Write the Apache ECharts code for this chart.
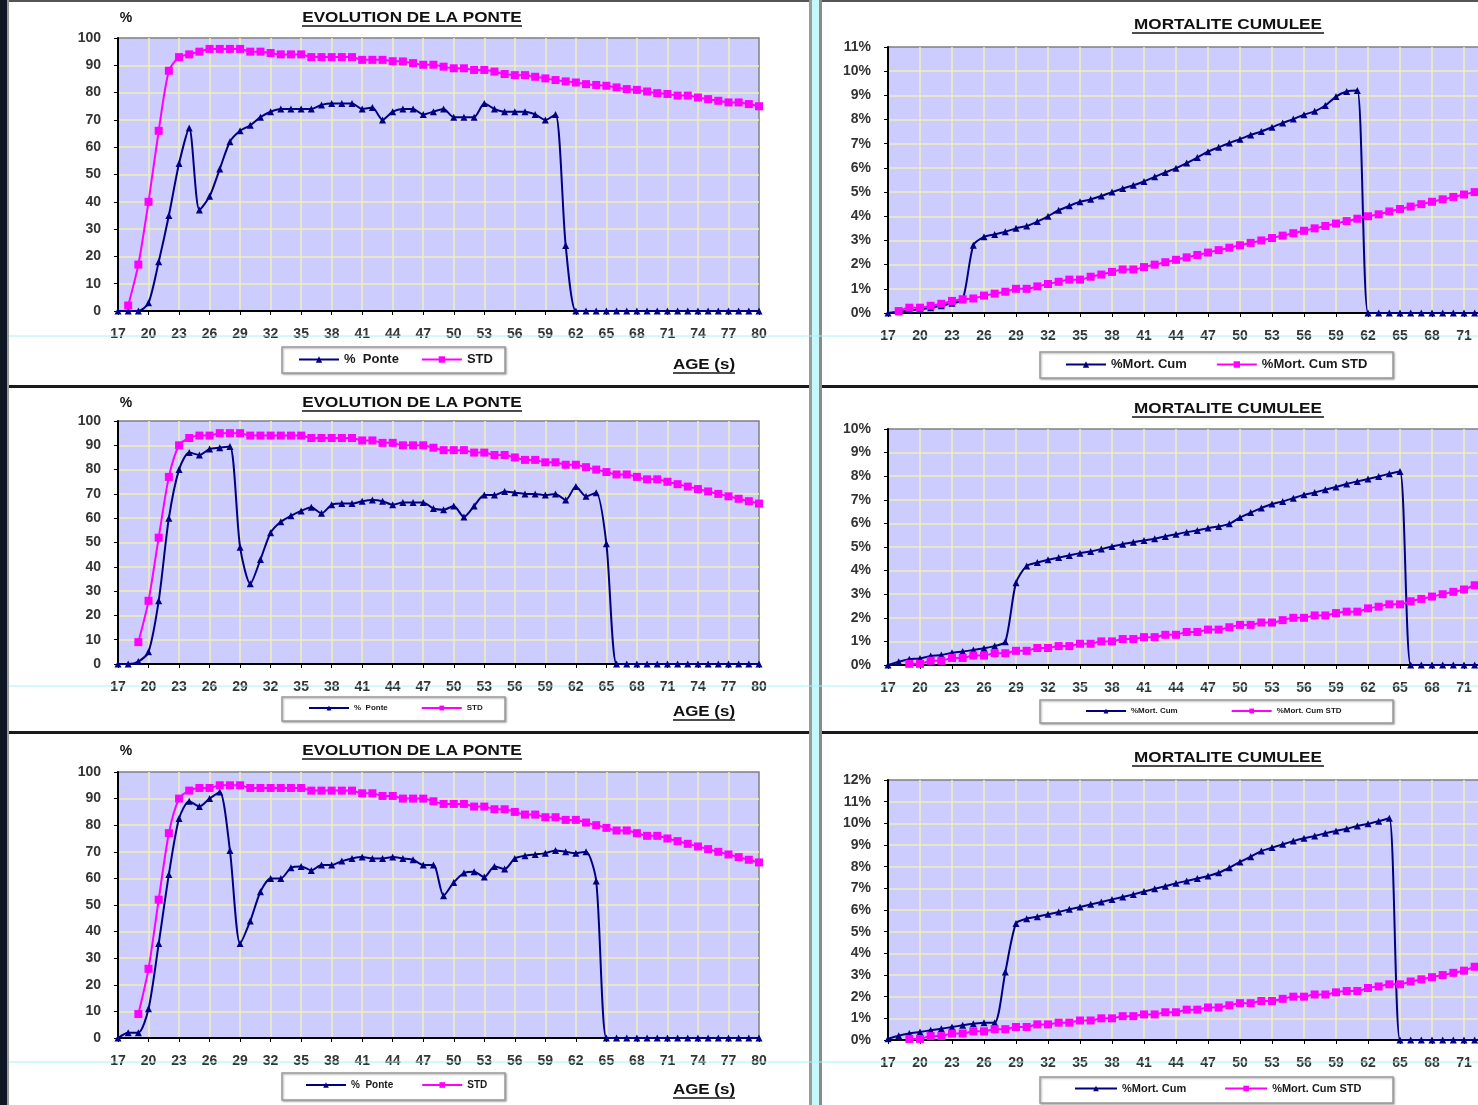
<!DOCTYPE html>
<html>
<head>
<meta charset="utf-8">
<title>Evolution de la ponte / Mortalite cumulee</title>
<script src="https://cdn.jsdelivr.net/npm/echarts@6/dist/echarts.min.js"></script>
<style>
html, body { margin: 0; padding: 0; background: #0e1723; overflow: hidden; }
#chart { width: 1478px; height: 1105px; }
</style>
</head>
<body>
<div id="chart"></div>
<script>
// semaines d'age (axe X commun)
const weeks = ['17','18','19','20','21','22','23','24','25','26','27','28','29','30','31','32',
  '33','34','35','36','37','38','39','40','41','42','43','44','45','46','47','48',
  '49','50','51','52','53','54','55','56','57','58','59','60','61','62','63','64',
  '65','66','67','68','69','70','71','72','73','74','75','76','77','78','79','80'];

// % ponte - lot 1, 2, 3
const ponte1 = [0,0,0,3,18,35,54,67,37,42,52,62,66,68,71,73,
  74,74,74,74,75.5,76,76,76,74,74.5,70,73,74,74,72,73,
  74,71,71,71,76,74,73,73,73,72,70,72,24,0,0,0,
  0,0,0,0,0,0,0,0,0,0,0,0,0,0,0,0];
const ponte2 = [0,0,1,5,26,60,80,87,86,88.5,89,89.5,48,33,43,54,
  58.5,61,63,64.5,62,65.5,66,66,67,67.5,67,65.5,66.5,66.5,66.5,64,
  63.5,65,60.5,65,69.5,69.5,71,70.5,70,70,69.5,70,67.5,73,69,70.5,
  49.5,0,0,0,0,0,0,0,0,0,0,0,0,0,0,0];
const ponte3 = [0,2,2,11,35.5,61.5,82.5,89,87,90,92.5,70.5,35.5,44,55,60,
  60,64,64.5,63,65,65,66.5,67.5,68,67.5,67.5,68,67.5,67,65,65,
  53.5,58.5,62,62.5,60.5,64.5,63.5,67.5,68.5,69,69.5,70.5,70,69.5,70,59,
  0,0,0,0,0,0,0,0,0,0,0,0,0,0,0,0];

// standard de ponte
const stdPonte1 = [null,2,17,40,66,88,93,94,95,96,96,96,96,95,95,94.5,
  94,94,94,93,93,93,93,93,92,92,92,91.5,91.4,90.8,90.2,90.2,
  89.5,88.9,88.9,88.3,88.3,87.7,86.8,86.4,86.4,85.8,85.2,84.6,84.1,83.7,83.1,82.8,
  82.5,81.9,81.3,81,80.4,79.8,79.5,78.9,78.9,78.2,77.6,77,76.4,76.4,75.8,75];
const stdPonte2 = [null,null,9,26,52,77,90,93,94,94,95,95,95,94,94,94,
  94,94,94,93,93,93,93,93,92,92,91,91,90,90,90,89,
  88,88,88,87,87,86,86,85,84,84,83,83,82,82,81,80,
  79,78,78,77,76,76,75,74,73,72,71,70,69,68,67,66];

// % mortalite cumulee - lot 1, 2, 3
const mort1 = [0,0.05,0.1,0.15,0.22,0.3,0.4,0.55,2.8,3.15,3.25,3.36,3.5,3.6,3.78,4.0,
  4.25,4.43,4.6,4.7,4.84,5.0,5.15,5.28,5.44,5.63,5.81,5.99,6.2,6.43,6.67,6.85,
  7.03,7.19,7.36,7.51,7.68,7.86,8.02,8.2,8.34,8.58,8.95,9.16,9.2,0,0,0,
  0,0,0,0,0,0,0,0,0,0,0,0,0,0,0,0];
const mort2 = [0,0.14,0.24,0.28,0.38,0.42,0.52,0.57,0.64,0.71,0.8,0.99,3.49,4.2,4.34,4.46,
  4.55,4.64,4.74,4.81,4.91,5.02,5.12,5.2,5.28,5.35,5.45,5.54,5.63,5.7,5.8,5.87,
  5.98,6.25,6.46,6.65,6.82,6.93,7.07,7.21,7.31,7.43,7.54,7.67,7.78,7.88,7.99,8.1,
  8.2,0,0,0,0,0,0,0,0,0,0,0,0,0,0,0];
const mort3 = [0.06,0.2,0.3,0.37,0.45,0.52,0.6,0.68,0.75,0.8,0.8,3.14,5.38,5.6,5.69,5.8,
  5.91,6.03,6.14,6.26,6.37,6.49,6.6,6.72,6.85,6.98,7.1,7.23,7.34,7.45,7.57,7.72,
  7.95,8.22,8.46,8.72,8.88,9.03,9.18,9.31,9.42,9.54,9.65,9.75,9.88,9.98,10.1,10.23,
  0,0,0,0,0,0,0,0,0,0,0,0,0,0,0,0];

// standard de mortalite cumulee
const stdMort1 = [null,0.08,0.22,0.22,0.3,0.38,0.5,0.57,0.6,0.72,0.8,0.88,1.0,1.0,1.1,1.2,
  1.29,1.38,1.38,1.5,1.59,1.7,1.8,1.8,1.9,2.0,2.1,2.2,2.3,2.4,2.5,2.6,
  2.7,2.8,2.9,3.0,3.1,3.2,3.3,3.4,3.5,3.6,3.7,3.8,3.9,4.0,4.08,4.2,
  4.3,4.4,4.5,4.6,4.7,4.8,4.9,5.0,5.1,5.2,5.3,5.4,5.5,5.6,5.7,5.8];
const stdMort2 = [null,null,0.05,0.05,0.18,0.18,0.3,0.3,0.4,0.4,0.5,0.5,0.6,0.6,0.72,0.72,
  0.8,0.8,0.9,0.9,1.0,1.0,1.1,1.1,1.18,1.18,1.28,1.28,1.4,1.4,1.5,1.5,
  1.6,1.7,1.7,1.8,1.8,1.9,2.0,2.0,2.1,2.1,2.2,2.26,2.26,2.4,2.47,2.57,
  2.57,2.7,2.8,2.9,3.0,3.1,3.2,3.38,3.45,3.55,3.65,3.75,3.85,3.95,4.05,4.15];

const yTicksPonte = [0, 100, 10];
const yTicksMort = [[0, 11, 1], [0, 10, 1], [0, 12, 1]];

const FONT = 'Arial, "Liberation Sans", sans-serif';
const NAVY = '#000080';
const PINK = '#ff00ff';
const GRIDLINE = '#f1efb6';

// position des 6 graphes : gauche = ponte, droite = mortalite
const plots = [
  { left: 118, top: 38,  width: 641, height: 273, kind: 'ponte', data: ponte1, std: stdPonte1, ticks: yTicksPonte },
  { left: 888, top: 47,  width: 672, height: 266, kind: 'mort',  data: mort1,  std: stdMort1,  ticks: yTicksMort[0] },
  { left: 118, top: 421, width: 641, height: 243, kind: 'ponte', data: ponte2, std: stdPonte2, ticks: yTicksPonte },
  { left: 888, top: 429, width: 672, height: 236, kind: 'mort',  data: mort2,  std: stdMort2,  ticks: yTicksMort[1] },
  { left: 118, top: 772, width: 641, height: 266, kind: 'ponte', data: ponte3, std: stdPonte2, ticks: yTicksPonte },
  { left: 888, top: 780, width: 672, height: 260, kind: 'mort',  data: mort3,  std: stdMort2,  ticks: yTicksMort[2] },
];

const grids = [], xAxes = [], yAxes = [], series = [];
plots.forEach(function (p, i) {
  grids.push({
    left: p.left, top: p.top, width: p.width, height: p.height,
    show: true, backgroundColor: '#ccccff', borderColor: '#808080', borderWidth: 1.5,
    outerBoundsMode: 'none'
  });
  xAxes.push({
    gridIndex: i, type: 'category', data: weeks, boundaryGap: false,
    axisLine: { show: true, onZero: false, lineStyle: { color: '#000', width: 2 } },
    axisTick: { show: true, interval: 2, length: 4, lineStyle: { color: '#000' } },
    axisLabel: { interval: 2, margin: 16, fontSize: 14, fontWeight: 'bold', color: '#333', fontFamily: FONT },
    splitLine: { show: true, interval: 2, showMinLine: false, showMaxLine: false, lineStyle: { color: GRIDLINE, width: 1.5 } }
  });
  yAxes.push({
    gridIndex: i, type: 'value', min: p.ticks[0], max: p.ticks[1], interval: p.ticks[2],
    axisLine: { show: true, lineStyle: { color: '#000', width: 2 } },
    axisTick: { show: true, length: 4, lineStyle: { color: '#000' } },
    axisLabel: {
      margin: 17, fontSize: 14, fontWeight: 'bold', color: '#333', fontFamily: FONT,
      formatter: p.kind === 'mort' ? '{value}%' : '{value}'
    },
    splitLine: { show: true, showMaxLine: false, lineStyle: { color: GRIDLINE, width: 1.5 } }
  });
  const n1 = p.kind === 'ponte' ? '% Ponte' : '%Mort. Cum';
  const n2 = p.kind === 'ponte' ? 'STD' : '%Mort. Cum STD';
  series.push({
    name: n1, type: 'line', xAxisIndex: i, yAxisIndex: i, data: p.data,
    smooth: 0.25, symbol: 'triangle', symbolSize: 7, showAllSymbol: true,
    lineStyle: { color: NAVY, width: 2 }, itemStyle: { color: NAVY }
  });
  series.push({
    name: n2, type: 'line', xAxisIndex: i, yAxisIndex: i, data: p.std,
    smooth: 0.25, symbol: 'rect', symbolSize: 8, showAllSymbol: true,
    lineStyle: { color: PINK, width: 2 }, itemStyle: { color: PINK }
  });
});

// legendes (boites dessinees a part)
function legend(names, left, top, fontSize, itemWidth, itemHeight, gap) {
  return {
    data: names, left: left, top: top, padding: 0, z: 5,
    itemWidth: itemWidth, itemHeight: itemHeight, itemGap: gap, selectedMode: false,
    formatter: function (name) { return name === '% Ponte' ? '%  Ponte' : name; },
    textStyle: { fontSize: fontSize, fontWeight: 'bold', color: '#1a1a1a', fontFamily: FONT }
  };
}
const legends = [
  legend(['% Ponte', 'STD'], 298, 353, 13, 40, 8, 22),
  legend(['%Mort. Cum', '%Mort. Cum STD'], 1065, 358, 13, 40, 8, 29),
  legend(['% Ponte', 'STD'], 308, 704, 8, 40, 6, 33),
  legend(['%Mort. Cum', '%Mort. Cum STD'], 1085, 707, 8, 40, 6, 53),
  legend(['% Ponte', 'STD'], 305, 1080, 10, 40, 7, 28),
  legend(['%Mort. Cum', '%Mort. Cum STD'], 1074, 1083, 11, 42, 7, 38),
];

// decor : panneaux, separateurs, titres
const g = [];
function rect(x, y, w, h, fill, z) {
  g.push({ type: 'rect', z: z, shape: { x: x, y: y, width: w, height: h }, style: { fill: fill } });
}
function text(t, x, y, size, sx, underline) {
  g.push({ type: 'text', z: 20, x: x, y: y, scaleX: sx,
    style: { text: t, fontSize: size, fontWeight: 'bold', fontFamily: FONT, fill: '#111', align: 'center', verticalAlign: 'middle' } });
  if (underline) {
    g.push({ type: 'line', z: 20, shape: { x1: underline[0], y1: y + 8, x2: underline[1], y2: y + 8 },
      style: { stroke: '#111', lineWidth: 1.5 } });
  }
}
function legendBox(x, y, w, h) {
  g.push({ type: 'rect', z: 3, shape: { x: x, y: y, width: w, height: h },
    style: { fill: '#fff', stroke: '#9a9a9a', lineWidth: 1.5, shadowBlur: 2, shadowOffsetX: 1, shadowOffsetY: 1, shadowColor: 'rgba(0,0,0,0.3)' } });
}

rect(9, 0, 1469, 1105, '#ffffff', -10);
rect(0, 0, 7, 1105, '#0e1723', -9);
rect(7, 0, 2, 1105, '#9a9a9a', -9);
rect(9, 0, 1469, 2, '#555', -9);
rect(9, 385, 1469, 3, '#1a1a1a', -9);
rect(9, 731, 1469, 3, '#1a1a1a', -9);
rect(809, 0, 3, 1105, '#9c9c9c', -8);
rect(812, 0, 7, 1105, '#c4f8fb', -8);
rect(819, 0, 3, 1105, '#8a8a8a', -8);

[[18, 365], [403, 712], [751, 1090]].forEach(function (r) {
  text('EVOLUTION DE LA PONTE', 412, r[0], 15, 1.14, [302, 522]);
  text('%', 126, r[0], 14, 1, null);
  text('AGE (s)', 704, r[1], 15, 1.13, [673, 735]);
});
[25, 409, 758].forEach(function (y) {
  text('MORTALITE CUMULEE', 1228, y, 15, 1.14, [1132, 1324]);
});
legendBox(282, 347, 223, 26);
legendBox(282, 697, 223, 24);
legendBox(282, 1073, 223, 27);
legendBox(1040, 352, 353, 26);
legendBox(1040, 700, 353, 23);
legendBox(1040, 1077, 353, 26);

[336, 686, 1062].forEach(function (y) {
  g.push({ type: 'line', z: 50, shape: { x1: 9, y1: y, x2: 1478, y2: y }, style: { stroke: '#a6f2f7', lineWidth: 1 } });
});

const myChart = echarts.init(document.getElementById('chart'), null, { renderer: 'canvas' });
const option = {
  animation: false,
  grid: grids,
  xAxis: xAxes,
  yAxis: yAxes,
  legend: legends,
  series: series,
  graphic: { elements: g }
};
myChart.setOption(option, true);
</script>
</body>
</html>
